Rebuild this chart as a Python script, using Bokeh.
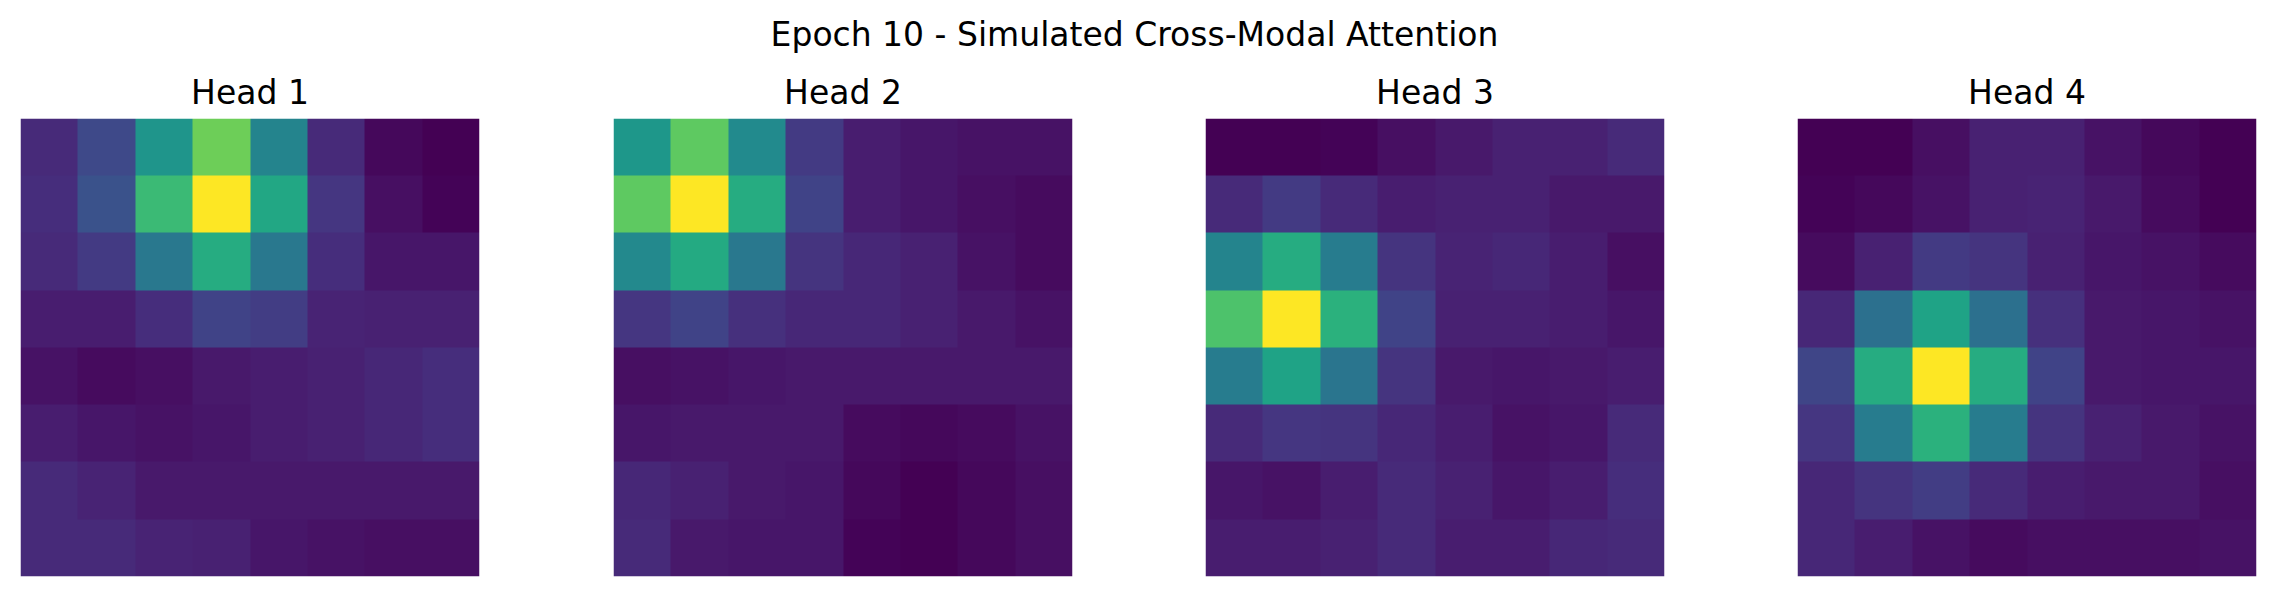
import numpy as np
from bokeh.plotting import figure
from bokeh.layouts import row, column
from bokeh.models import Div, LinearColorMapper, Range1d
from bokeh.palettes import Viridis256
from bokeh.embed import file_html
from bokeh.resources import INLINE

suptitle = "Epoch 10 - Simulated Cross-Modal Attention"
head_titles = ["Head 1", "Head 2", "Head 3", "Head 4"]

head1 = [
    [0.12, 0.22, 0.52, 0.78, 0.45, 0.12, 0.02, 0.00],
    [0.13, 0.25, 0.68, 1.00, 0.60, 0.16, 0.04, 0.01],
    [0.12, 0.17, 0.40, 0.62, 0.40, 0.13, 0.06, 0.06],
    [0.08, 0.08, 0.13, 0.20, 0.18, 0.10, 0.09, 0.09],
    [0.05, 0.03, 0.04, 0.07, 0.08, 0.09, 0.11, 0.13],
    [0.08, 0.06, 0.05, 0.06, 0.08, 0.09, 0.11, 0.13],
    [0.12, 0.10, 0.07, 0.07, 0.07, 0.07, 0.07, 0.07],
    [0.12, 0.12, 0.10, 0.09, 0.06, 0.05, 0.04, 0.04],
]
head2 = [
    [0.53, 0.75, 0.48, 0.17, 0.08, 0.06, 0.05, 0.05],
    [0.75, 1.00, 0.62, 0.20, 0.08, 0.06, 0.04, 0.03],
    [0.47, 0.61, 0.40, 0.15, 0.11, 0.09, 0.05, 0.03],
    [0.16, 0.20, 0.14, 0.11, 0.11, 0.09, 0.07, 0.05],
    [0.04, 0.05, 0.06, 0.07, 0.07, 0.07, 0.07, 0.07],
    [0.06, 0.07, 0.07, 0.07, 0.03, 0.02, 0.03, 0.05],
    [0.11, 0.09, 0.07, 0.06, 0.02, 0.00, 0.02, 0.04],
    [0.12, 0.07, 0.06, 0.06, 0.01, 0.00, 0.02, 0.04],
]
head3 = [
    [0.00, 0.00, 0.01, 0.04, 0.07, 0.09, 0.09, 0.12],
    [0.12, 0.17, 0.12, 0.08, 0.09, 0.09, 0.07, 0.07],
    [0.45, 0.62, 0.42, 0.15, 0.10, 0.11, 0.08, 0.04],
    [0.72, 1.00, 0.64, 0.20, 0.09, 0.09, 0.08, 0.06],
    [0.42, 0.58, 0.39, 0.15, 0.07, 0.06, 0.07, 0.08],
    [0.12, 0.16, 0.15, 0.11, 0.08, 0.05, 0.06, 0.12],
    [0.06, 0.05, 0.08, 0.12, 0.09, 0.06, 0.08, 0.13],
    [0.08, 0.08, 0.09, 0.12, 0.08, 0.08, 0.11, 0.12],
]
head4 = [
    [0.00, 0.00, 0.04, 0.09, 0.09, 0.05, 0.02, 0.00],
    [0.01, 0.02, 0.05, 0.09, 0.10, 0.07, 0.03, 0.00],
    [0.03, 0.09, 0.17, 0.15, 0.09, 0.06, 0.05, 0.03],
    [0.11, 0.37, 0.58, 0.37, 0.14, 0.07, 0.06, 0.05],
    [0.21, 0.62, 1.00, 0.62, 0.20, 0.07, 0.06, 0.06],
    [0.16, 0.42, 0.64, 0.42, 0.15, 0.09, 0.07, 0.05],
    [0.11, 0.15, 0.18, 0.12, 0.08, 0.07, 0.07, 0.04],
    [0.11, 0.08, 0.05, 0.03, 0.04, 0.04, 0.04, 0.05],
]
heads = [head1, head2, head3, head4]

FONT = "DejaVu Sans"
figs = []
n_heads = len(heads)
for i, (data, ttl) in enumerate(zip(heads, head_titles)):
    arr = np.array(data, dtype=float)
    n = arr.shape[0]
    mapper = LinearColorMapper(palette=Viridis256, low=arr.min(), high=arr.max())
    left_border = 20 if i == 0 else 12
    if i == n_heads - 1:
        right_border = 4
    elif i == 0:
        right_border = 122
    else:
        right_border = 121
    p = figure(
        frame_width=459, frame_height=458,
        x_range=Range1d(0, n), y_range=Range1d(0, n),
        output_backend="svg", toolbar_location=None,
        min_border_left=left_border, min_border_right=right_border,
        min_border_top=0, min_border_bottom=4,
    )
    p.image(image=[np.flipud(arr)], x=0, y=0, dw=n, dh=n, color_mapper=mapper)
    p.axis.visible = False
    p.grid.visible = False
    p.outline_line_color = None
    p.background_fill_color = "white"
    p.border_fill_color = "white"
    p.title.text = ttl
    p.title.align = "center"
    p.title.text_font = FONT
    p.title.text_font_size = "33px"
    p.title.text_font_style = "normal"
    p.title.text_color = "black"
    p.title.standoff = 13
    figs.append(p)

title_div = Div(
    text=suptitle, width=2259, height=54,
    styles={"font-family": FONT, "font-size": "33px", "text-align": "center",
            "line-height": "48px", "padding-top": "6px", "color": "black",
            "width": "2259px", "box-sizing": "border-box"},
)

layout = column(title_div, row(*figs))
open("out.html", "w").write(file_html(layout, INLINE))
